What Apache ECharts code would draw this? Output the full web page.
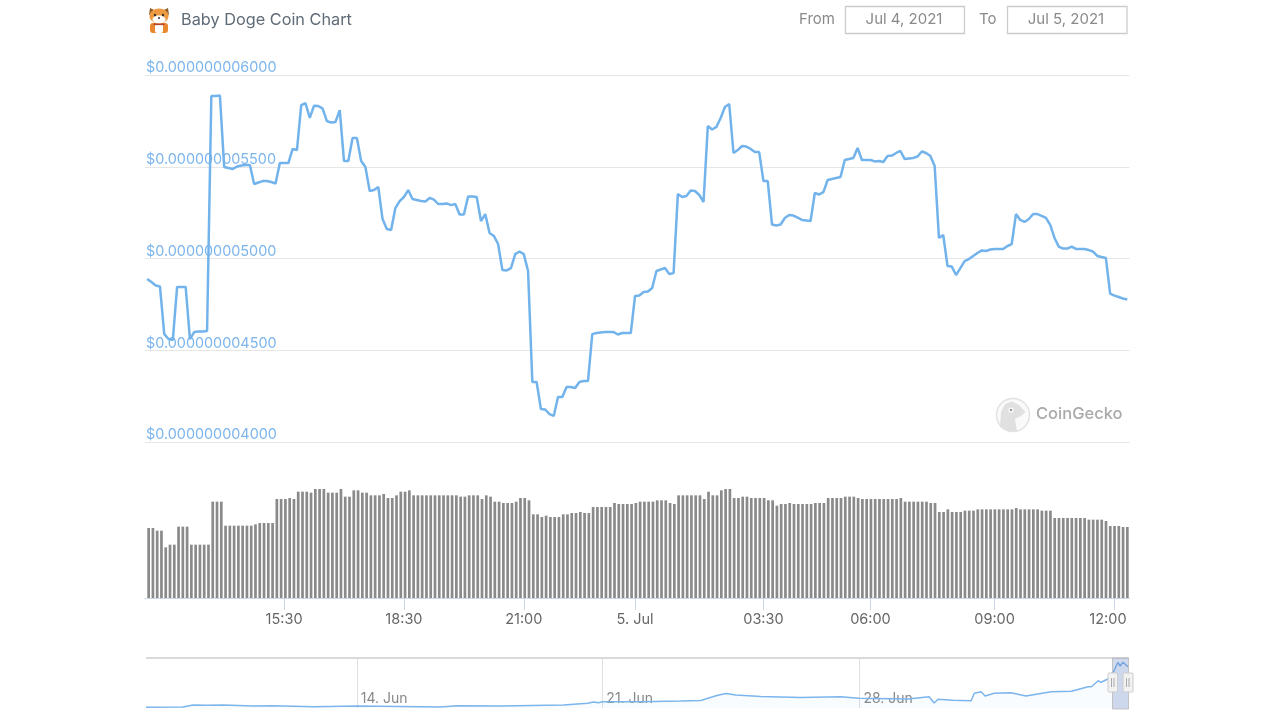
<!DOCTYPE html>
<html>
<head>
<meta charset="utf-8">
<title>Baby Doge Coin Chart</title>
<script src="https://cdn.jsdelivr.net/npm/echarts@6/dist/echarts.min.js"></script>
<style>html,body{margin:0;padding:0;background:#fff}#c{width:1280px;height:720px}</style>
</head>
<body>
<div id="c"></div>
<script>
// Price in units of 1e-12 USD, one value per sample
const price = [
4888,4872,4853,4847,4588,4561,4556,4845,4845,4845,
4561,4599,4602,4602,4605,5886,5886,5888,5499,5493,
5488,5501,5507,5510,5510,5406,5414,5422,5422,5417,
5409,5520,5520,5520,5597,5591,5836,5846,5766,5833,
5831,5817,5749,5741,5744,5809,5531,5531,5657,5657,
5531,5499,5368,5373,5390,5215,5161,5155,5275,5313,
5335,5373,5324,5319,5313,5311,5330,5321,5297,5297,
5300,5291,5297,5240,5240,5338,5338,5335,5204,5242,
5139,5123,5079,4937,4935,4948,5024,5038,5024,4932,
4327,4327,4180,4177,4152,4142,4245,4245,4300,4300,
4294,4327,4332,4332,4588,4594,4597,4599,4599,4599,
4586,4594,4594,4594,4796,4798,4817,4820,4839,4932,
4940,4948,4915,4921,5351,5335,5341,5371,5368,5346,
5308,5722,5703,5717,5766,5826,5842,5575,5591,5613,
5610,5597,5580,5580,5422,5422,5185,5180,5185,5221,
5237,5234,5223,5210,5207,5204,5357,5349,5362,5428,
5433,5439,5444,5537,5542,5548,5602,5537,5537,5537,
5529,5531,5526,5559,5561,5575,5586,5542,5545,5548,
5556,5583,5575,5559,5504,5112,5128,4959,4956,4910,
4948,4986,4997,5014,5030,5044,5041,5049,5052,5052,
5052,5068,5079,5242,5210,5199,5215,5242,5242,5232,
5221,5183,5112,5065,5054,5054,5065,5052,5052,5052,
5046,5038,5014,5008,5003,4809,4798,4790,4782,4777
];
// Trading volume, arbitrary units (the reference has no volume scale)
const volume = [
210,210,202,202,152,160,160,214,214,214,
160,160,160,160,160,289,289,289,217,217,
217,217,217,217,217,221,225,225,225,225,
297,297,297,300,297,319,319,319,316,327,
327,327,316,316,316,327,304,304,323,323,
316,316,308,308,308,312,300,300,308,319,
319,323,308,308,308,308,308,308,308,308,
308,308,308,304,304,308,308,308,297,308,
304,289,289,285,285,285,289,300,300,293,
251,251,243,247,243,243,243,251,251,255,
255,258,255,255,273,273,273,273,273,285,
282,282,282,282,285,289,289,289,289,293,
293,293,285,282,308,308,308,308,308,308,
297,319,308,308,323,327,327,300,300,304,
304,300,300,300,300,293,293,277,282,282,
285,282,282,282,282,282,285,285,285,300,
300,300,300,304,304,304,300,297,297,297,
297,297,297,297,297,297,300,289,289,289,
289,289,289,285,285,258,258,266,258,258,
258,262,262,262,266,266,266,266,266,266,
266,266,266,270,266,266,266,266,266,262,
262,262,240,240,240,240,240,240,240,240,
235,235,235,235,231,216,216,216,213,213
];
const timeTickIndex = [32, 60, 88, 114, 144, 169, 198, 226];
const timeTickLabels = ['15:30', '18:30', '21:00', '5. Jul', '03:30', '06:00', '09:00', '12:00'];

// Navigator: date position (days counted from 1 June) and price, 1e-12 USD
const navDay = [8.13,9.16,9.44,9.83,10.28,11.11,11.67,12.79,14.01,15.21,16.33,16.80,18.00,19.76,20.43,20.60,20.73,20.84,21.90,23.02,23.58,24.03,24.28,24.55,25.25,26.37,27.48,27.98,29.35,29.94,30.08,30.19,30.61,31.11,31.20,31.39,31.50,31.75,32.22,32.64,33.34,33.90,34.37,34.46,34.65,34.73,34.92,35.09,35.20,35.26,35.34,35.48];
const navPrice = [90,128,384,346,384,256,294,166,256,192,128,294,256,384,602,768,678,806,806,896,960,1600,1856,1664,1472,1344,1446,1242,1152,1446,640,1114,986,934,1882,2086,1536,1882,1958,1536,2086,2138,2726,2726,3494,3290,3712,4774,5850,5376,5850,5286];
const navTickDay = [14, 20.84, 28];
const navTickLabels = ['14. Jun', '21. Jun', '28. Jun'];

const yTicks = {min: 4000, max: 6000, step: 500};
const FONT = 'Inter, "Noto Sans", sans-serif';

const categories = price.map((_, i) => {
  const k = timeTickIndex.indexOf(i);
  return k >= 0 ? timeTickLabels[k] : '';
});
const isTick = (i) => timeTickIndex.indexOf(i) >= 0;

const chart = echarts.init(document.getElementById('c'), null, {renderer: 'canvas'});
chart.setOption({
  animation: false,
  backgroundColor: '#fff',
  grid: [
    {left: 145, top: 75, width: 984.4, height: 367},
    {left: 146.5, top: 470, width: 983, height: 128},
    {left: 146, top: 658, width: 982, height: 50}
  ],
  xAxis: [
    {type: 'category', gridIndex: 0, data: categories, boundaryGap: true, position: 'bottom', offset: 156,
      axisLine: {lineStyle: {color: '#ccd6eb', width: 1}},
      axisTick: {show: true, alignWithLabel: true, interval: (i) => isTick(i), length: 12, lineStyle: {color: '#ccd6eb', width: 1}},
      axisLabel: {interval: (i) => isTick(i), color: '#666', fontFamily: FONT, fontSize: 14.5, margin: 14, hideOverlap: false,
        formatter: (v) => v === '12:00' ? '{last|' + v + '}' : v,
        rich: {last: {padding: [0, 13, 0, 0], color: '#666', fontFamily: FONT, fontSize: 14.5}}}
    },
    {type: 'category', gridIndex: 1, data: categories, boundaryGap: true, show: false},
    {type: 'value', gridIndex: 2, min: navDay[0], max: navDay[navDay.length - 1],
      axisLine: {show: false},
      axisTick: {show: false, customValues: navTickDay},
      splitLine: {show: true, lineStyle: {color: '#e0e0e0', width: 1}},
      axisLabel: {inside: true, margin: 2, align: 'left', padding: [0, 0, 0, 4], customValues: navTickDay,
        color: '#888', fontFamily: FONT, fontSize: 14,
        formatter: (v) => navTickLabels[navTickDay.indexOf(v)] || ''}
    }
  ],
  yAxis: [
    {type: 'value', gridIndex: 0, min: yTicks.min, max: yTicks.max, interval: yTicks.step,
      axisLine: {show: false}, axisTick: {show: false},
      splitLine: {lineStyle: {color: '#e6e6e6', width: 1}},
      axisLabel: {inside: true, margin: 1, verticalAlign: 'bottom', align: 'left', color: '#7cb5ec',
        fontFamily: FONT, fontSize: 14.4, padding: [0, 0, 0, 0],
        formatter: (v) => '$' + (v * 1e-12).toFixed(12)}
    },
    {type: 'value', gridIndex: 1, min: 0, max: 384, show: false},
    {type: 'value', gridIndex: 2, min: 0, max: 6400, show: false}
  ],
  series: [
    {type: 'line', xAxisIndex: 0, yAxisIndex: 0, data: price, showSymbol: false, symbol: 'none',
      lineStyle: {color: '#72b3ec', width: 2.5}, z: 3},
    {type: 'bar', xAxisIndex: 1, yAxisIndex: 1, data: volume, barWidth: 2.7, clip: false,
      itemStyle: {color: '#8a8a8a'}},
    {type: 'line', xAxisIndex: 2, yAxisIndex: 2, data: navDay.map((d, i) => [d, navPrice[i]]),
      showSymbol: false, symbol: 'none', lineStyle: {color: '#7cb5ec', width: 1.5},
      areaStyle: {color: 'rgba(124,181,236,0.06)'}}
  ],
  graphic: [
    // header
    {type: 'text', left: 181, top: 12, style: {text: 'Baby Doge Coin Chart', fill: '#5f6b76', font: '16.3px ' + FONT}},
    {type: 'text', left: 799, top: 12, style: {text: 'From', fill: '#8a8a8a', font: '15px ' + FONT}},
    {type: 'rect', shape: {x: 845.5, y: 6.5, width: 119, height: 27}, style: {fill: '#fff', stroke: '#cccccc', lineWidth: 1.3}},
    {type: 'text', x: 904, y: 19.5, style: {text: 'Jul 4, 2021', fill: '#8a8a8a', font: '15px ' + FONT, align: 'center', verticalAlign: 'middle'}},
    {type: 'text', left: 979, top: 12, style: {text: 'To', fill: '#8a8a8a', font: '15px ' + FONT}},
    {type: 'rect', shape: {x: 1007.5, y: 6.5, width: 119.5, height: 27}, style: {fill: '#fff', stroke: '#cccccc', lineWidth: 1.3}},
    {type: 'text', x: 1066, y: 19.5, style: {text: 'Jul 5, 2021', fill: '#8a8a8a', font: '15px ' + FONT, align: 'center', verticalAlign: 'middle'}},
    // dog icon
    {type: 'group', children: [
      {type: 'polygon', shape: {points: [[149,15],[150,8],[156,11]]}, style: {fill: '#8a5a2b'}},
      {type: 'polygon', shape: {points: [[169,15],[168,8],[162,11]]}, style: {fill: '#8a5a2b'}},
      {type: 'rect', shape: {x: 150, y: 23, width: 18, height: 10, r: 3}, style: {fill: '#e8892f'}},
      {type: 'rect', shape: {x: 155, y: 24, width: 8, height: 9, r: 2}, style: {fill: '#fff'}},
      {type: 'ellipse', shape: {cx: 159, cy: 16, rx: 9.5, ry: 7.5}, style: {fill: '#ee9a42'}},
      {type: 'ellipse', shape: {cx: 159, cy: 19.5, rx: 6.5, ry: 4}, style: {fill: '#fff'}},
      {type: 'circle', shape: {cx: 155, cy: 15, r: 1.2}, style: {fill: '#333'}},
      {type: 'circle', shape: {cx: 163, cy: 15, r: 1.2}, style: {fill: '#333'}},
      {type: 'circle', shape: {cx: 159, cy: 18, r: 1}, style: {fill: '#333'}},
      {type: 'rect', shape: {x: 153.5, y: 23.5, width: 11, height: 1.6}, style: {fill: '#b5482a'}}
    ]},
    // watermark
    {type: 'circle', shape: {cx: 1013, cy: 415, r: 16.5}, style: {fill: '#fafafa', stroke: '#e2e2e2', lineWidth: 1.5}},
    {type: 'polygon', shape: {points: [[1000,427],[1001,412],[1005,404],[1012,401.5],[1019,405],[1025.5,412],[1021,416],[1015,419],[1017,431],[1007,431]]}, style: {fill: '#e0e0e0'}},
    {type: 'circle', shape: {cx: 1011, cy: 410, r: 2.6}, style: {fill: '#fff'}},
    {type: 'circle', shape: {cx: 1011, cy: 410, r: 1.3}, style: {fill: '#999'}},
    {type: 'text', left: 1036, top: 406, style: {text: 'CoinGecko', fill: '#aaaaaa', font: '500 16.5px ' + FONT}},
    // navigator frame and selection
    {type: 'line', shape: {x1: 146, y1: 658, x2: 1129, y2: 658}, style: {stroke: '#cccccc', lineWidth: 1.5}},
    {type: 'rect', z: 5, shape: {x: 1112.5, y: 658, width: 16, height: 51}, style: {fill: 'rgba(102,133,194,0.3)', stroke: 'rgba(190,190,190,0.9)', lineWidth: 1}},
    {type: 'rect', z: 6, shape: {x: 1108, y: 673, width: 9.5, height: 19, r: 1}, style: {fill: '#f2f2f2', stroke: '#cccccc', lineWidth: 1}},
    {type: 'line', z: 7, shape: {x1: 1111.5, y1: 678, x2: 1111.5, y2: 687}, style: {stroke: '#aaa', lineWidth: 1}},
    {type: 'line', z: 7, shape: {x1: 1114, y1: 678, x2: 1114, y2: 687}, style: {stroke: '#aaa', lineWidth: 1}},
    {type: 'rect', z: 6, shape: {x: 1123, y: 673, width: 10, height: 19, r: 1}, style: {fill: '#f2f2f2', stroke: '#cccccc', lineWidth: 1}},
    {type: 'line', z: 7, shape: {x1: 1126.5, y1: 678, x2: 1126.5, y2: 687}, style: {stroke: '#aaa', lineWidth: 1}},
    {type: 'line', z: 7, shape: {x1: 1129, y1: 678, x2: 1129, y2: 687}, style: {stroke: '#aaa', lineWidth: 1}}
  ]
});
</script>
</body>
</html>
